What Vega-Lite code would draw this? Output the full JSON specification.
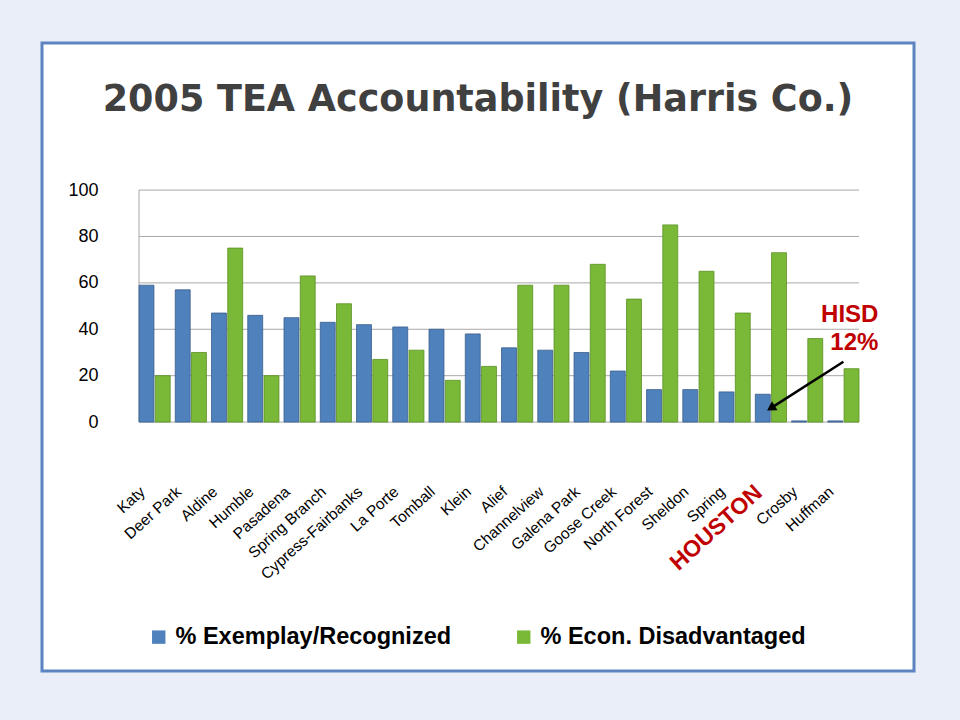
{
  "$schema": "https://vega.github.io/schema/vega-lite/v6.json",
  "width": 872,
  "height": 628,
  "autosize": {"type": "none"},
  "padding": {"left": 42, "top": 43, "right": 46, "bottom": 49},
  "background": "#e9eef8",
  "title": {
    "text": "2005 TEA Accountability (Harris Co.)",
    "font": "DejaVu Sans",
    "fontSize": 36.5,
    "fontWeight": "bold",
    "color": "#404040",
    "anchor": "middle",
    "frame": "group",
    "baseline": "alphabetic",
    "offset": -104
  },
  "config": {
    "view": {"fill": "white", "stroke": "#5b84c0", "strokeWidth": 3},
    "font": "Liberation Sans"
  },
  "datasets": {
    "tea": [
      {"district": "Katy", "series": "% Exemplay/Recognized", "pct": 59},
      {"district": "Katy", "series": "% Econ. Disadvantaged", "pct": 20},
      {"district": "Deer Park", "series": "% Exemplay/Recognized", "pct": 57},
      {"district": "Deer Park", "series": "% Econ. Disadvantaged", "pct": 30},
      {"district": "Aldine", "series": "% Exemplay/Recognized", "pct": 47},
      {"district": "Aldine", "series": "% Econ. Disadvantaged", "pct": 75},
      {"district": "Humble", "series": "% Exemplay/Recognized", "pct": 46},
      {"district": "Humble", "series": "% Econ. Disadvantaged", "pct": 20},
      {"district": "Pasadena", "series": "% Exemplay/Recognized", "pct": 45},
      {"district": "Pasadena", "series": "% Econ. Disadvantaged", "pct": 63},
      {"district": "Spring Branch", "series": "% Exemplay/Recognized", "pct": 43},
      {"district": "Spring Branch", "series": "% Econ. Disadvantaged", "pct": 51},
      {"district": "Cypress-Fairbanks", "series": "% Exemplay/Recognized", "pct": 42},
      {"district": "Cypress-Fairbanks", "series": "% Econ. Disadvantaged", "pct": 27},
      {"district": "La Porte", "series": "% Exemplay/Recognized", "pct": 41},
      {"district": "La Porte", "series": "% Econ. Disadvantaged", "pct": 31},
      {"district": "Tomball", "series": "% Exemplay/Recognized", "pct": 40},
      {"district": "Tomball", "series": "% Econ. Disadvantaged", "pct": 18},
      {"district": "Klein", "series": "% Exemplay/Recognized", "pct": 38},
      {"district": "Klein", "series": "% Econ. Disadvantaged", "pct": 24},
      {"district": "Alief", "series": "% Exemplay/Recognized", "pct": 32},
      {"district": "Alief", "series": "% Econ. Disadvantaged", "pct": 59},
      {"district": "Channelview", "series": "% Exemplay/Recognized", "pct": 31},
      {"district": "Channelview", "series": "% Econ. Disadvantaged", "pct": 59},
      {"district": "Galena Park", "series": "% Exemplay/Recognized", "pct": 30},
      {"district": "Galena Park", "series": "% Econ. Disadvantaged", "pct": 68},
      {"district": "Goose Creek", "series": "% Exemplay/Recognized", "pct": 22},
      {"district": "Goose Creek", "series": "% Econ. Disadvantaged", "pct": 53},
      {"district": "North Forest", "series": "% Exemplay/Recognized", "pct": 14},
      {"district": "North Forest", "series": "% Econ. Disadvantaged", "pct": 85},
      {"district": "Sheldon", "series": "% Exemplay/Recognized", "pct": 14},
      {"district": "Sheldon", "series": "% Econ. Disadvantaged", "pct": 65},
      {"district": "Spring", "series": "% Exemplay/Recognized", "pct": 13},
      {"district": "Spring", "series": "% Econ. Disadvantaged", "pct": 47},
      {"district": "HOUSTON", "series": "% Exemplay/Recognized", "pct": 12},
      {"district": "HOUSTON", "series": "% Econ. Disadvantaged", "pct": 73},
      {"district": "Crosby", "series": "% Exemplay/Recognized", "pct": 0.5},
      {"district": "Crosby", "series": "% Econ. Disadvantaged", "pct": 36},
      {"district": "Huffman", "series": "% Exemplay/Recognized", "pct": 0.5},
      {"district": "Huffman", "series": "% Econ. Disadvantaged", "pct": 23}
    ],
    "grid": [{"g": 0}, {"g": 20}, {"g": 40}, {"g": 60}, {"g": 80}, {"g": 100}]
  },
  "layer": [
    {
      "data": {"name": "grid"},
      "mark": {"type": "rule", "color": "#a8a8a8", "strokeWidth": 1},
      "encoding": {
        "y": {"field": "g", "type": "quantitative"},
        "x": {"datum": "Katy", "bandPosition": 0},
        "x2": {"datum": "Huffman", "bandPosition": 1}
      }
    },
    {
      "data": {"values": [{}]},
      "mark": {"type": "rule", "color": "#a8a8a8", "strokeWidth": 1},
      "encoding": {
        "x": {"datum": "Katy", "bandPosition": 0},
        "y": {"datum": 0},
        "y2": {"datum": 100}
      }
    },
    {
      "data": {"name": "tea"},
      "mark": {"type": "bar", "strokeWidth": 0.8},
      "encoding": {
        "x": {
          "field": "district",
          "type": "nominal",
          "scale": {
            "domain": ["Katy", "Deer Park", "Aldine", "Humble", "Pasadena", "Spring Branch", "Cypress-Fairbanks", "La Porte", "Tomball", "Klein", "Alief", "Channelview", "Galena Park", "Goose Creek", "North Forest", "Sheldon", "Spring", "HOUSTON", "Crosby", "Huffman"],
            "range": [97, 817],
            "paddingInner": 0.14,
            "paddingOuter": 0
          },
          "axis": {
            "title": null,
            "offset": -186,
            "domain": false,
            "ticks": false,
            "labelAngle": -42,
            "labelAlign": "right",
            "labelBaseline": "middle",
            "labelPadding": 4,
            "labelOffset": -12,
            "labelFont": "Liberation Sans",
            "labelFontSize": {"condition": {"test": "datum.value == 'HOUSTON'", "value": 23}, "value": 15.5},
            "labelFontWeight": {"condition": {"test": "datum.value == 'HOUSTON'", "value": "bold"}, "value": "normal"},
            "labelColor": {"condition": {"test": "datum.value == 'HOUSTON'", "value": "#c00000"}, "value": "black"},
            "labelLimit": 300
          }
        },
        "xOffset": {
          "field": "series",
          "type": "nominal",
          "scale": {"domain": ["% Exemplay/Recognized", "% Econ. Disadvantaged"], "paddingInner": 0.08}
        },
        "y": {
          "field": "pct",
          "type": "quantitative",
          "scale": {"domain": [-107.3, 163.4], "nice": false, "zero": false},
          "axis": {
            "title": null,
            "values": [0, 20, 40, 60, 80, 100],
            "offset": -62,
            "domain": false,
            "ticks": false,
            "grid": false,
            "labelPadding": 6,
            "labelFontSize": 18,
            "labelColor": "black"
          }
        },
        "color": {
          "field": "series",
          "type": "nominal",
          "scale": {
            "domain": ["% Exemplay/Recognized", "% Econ. Disadvantaged"],
            "range": ["#4f81bd", "#7ab938"]
          },
          "legend": {
            "title": null,
            "orient": "none",
            "direction": "horizontal",
            "legendX": 105,
            "legendY": 582,
            "symbolType": "square",
            "symbolSize": 180,
            "symbolStrokeWidth": 0,
            "labelFontSize": 23.5,
            "labelFontWeight": "bold",
            "labelColor": "black",
            "labelLimit": 400,
            "labelOffset": 5,
            "columnPadding": 60
          }
        },
        "stroke": {
          "field": "series",
          "type": "nominal",
          "scale": {
            "domain": ["% Exemplay/Recognized", "% Econ. Disadvantaged"],
            "range": ["#385d8a", "#5a8f22"]
          },
          "legend": null
        }
      }
    },
    {
      "data": {"values": [{}]},
      "mark": {"type": "rule", "color": "black", "strokeWidth": 2.5},
      "encoding": {
        "x": {"datum": "Huffman"},
        "y": {"datum": 26},
        "x2": {"datum": "HOUSTON"},
        "y2": {"datum": 6}
      }
    },
    {
      "data": {"values": [{}]},
      "mark": {"type": "point", "shape": "triangle-up", "filled": true, "size": 110, "angle": 238, "color": "black", "opacity": 1},
      "encoding": {
        "x": {"datum": "HOUSTON"},
        "y": {"datum": 6}
      }
    },
    {
      "data": {"values": [{}]},
      "mark": {
        "type": "text",
        "text": ["HISD", "12%"],
        "align": "right",
        "baseline": "alphabetic",
        "dx": 35,
        "lineHeight": 28,
        "font": "Liberation Sans",
        "fontSize": 24,
        "fontWeight": "bold",
        "color": "#c00000"
      },
      "encoding": {
        "x": {"datum": "Huffman"},
        "y": {"datum": 43}
      }
    }
  ]
}
